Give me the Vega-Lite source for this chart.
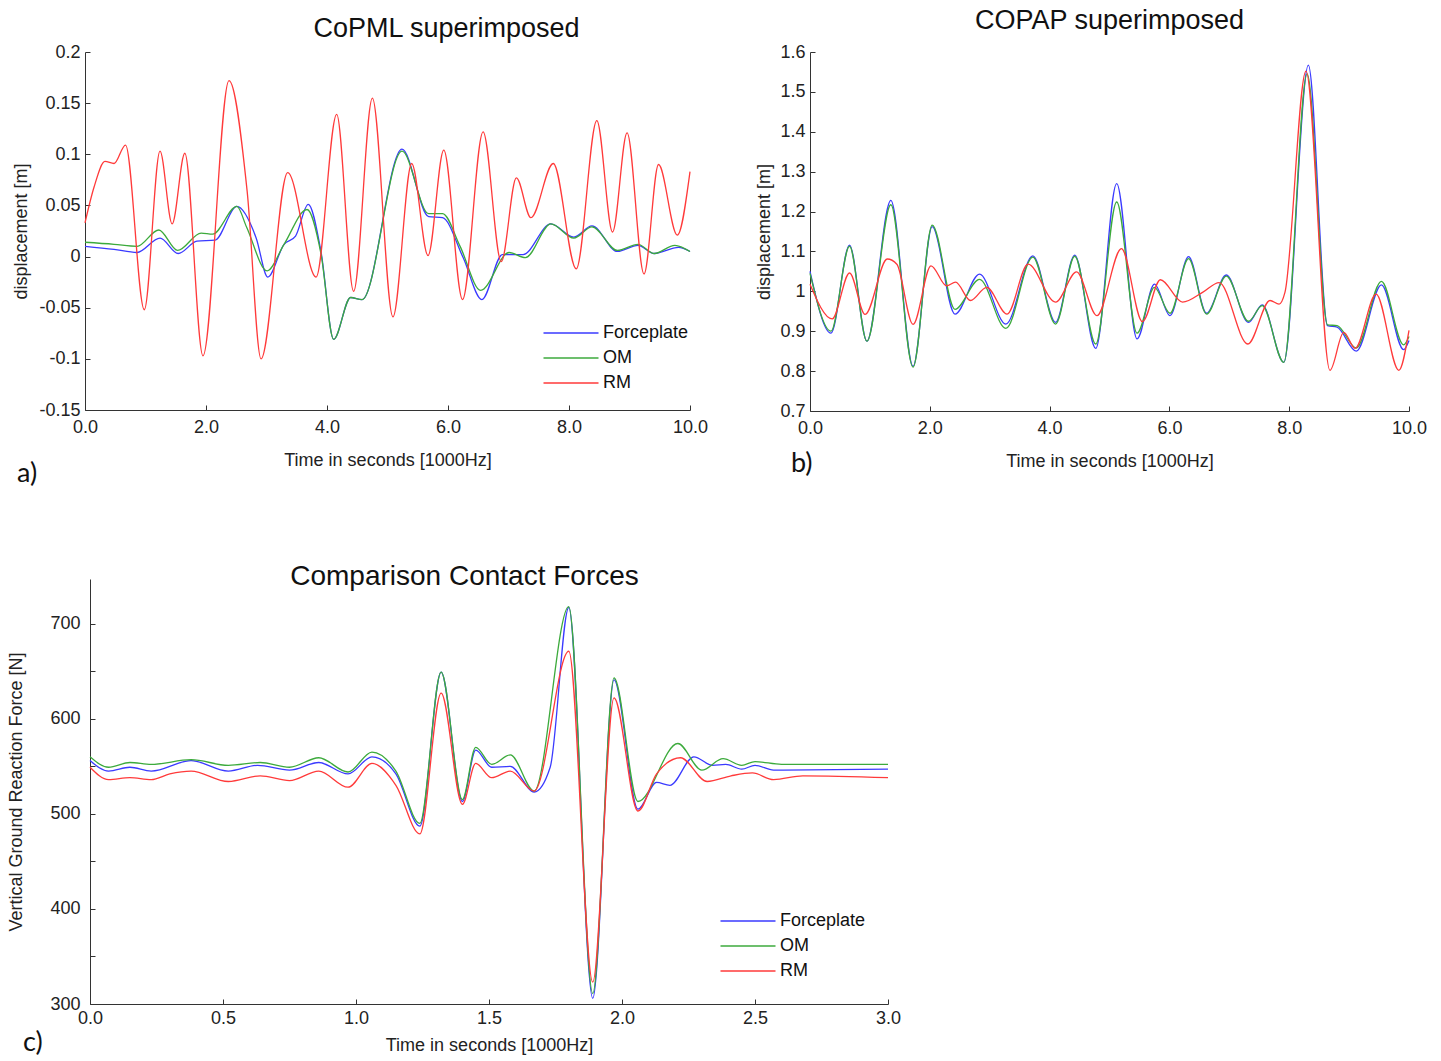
{
  "$schema": "https://vega.github.io/schema/vega-lite/v6.json",
  "background": "white",
  "padding": {"left": 7, "top": 7, "right": 5, "bottom": 5},
  "config": {
    "font": "Liberation Sans",
    "view": {"stroke": null},
    "title": {"fontSize": 27, "fontWeight": "normal", "color": "#111", "font": "Liberation Sans"},
    "axis": {
      "domainColor": "#333", "tickColor": "#333", "tickSize": -5, "labelPadding": 10, "labelFlush": false,
      "labelFontSize": 18, "labelColor": "#222", "titleFontSize": 18, "titleFontWeight": "normal",
      "titleColor": "#222", "grid": false
    },
    "legend": {"padding": 0, "labelFontSize": 18, "labelColor": "#111", "symbolType": "M-1,0H9",
      "symbolSize": 121, "symbolStrokeWidth": 1.5, "rowPadding": 7, "labelOffset": 45, "title": null},
    "line": {"strokeWidth": 1.3, "interpolate": "monotone"}
  },
  "datasets": {
    "a": [
      {"s":"Forceplate","t":0,"v":0.010},{"s":"Forceplate","t":0.48,"v":0.007},{"s":"Forceplate","t":0.86,"v":0.004},
      {"s":"Forceplate","t":1.24,"v":0.018},{"s":"Forceplate","t":1.54,"v":0.003},{"s":"Forceplate","t":1.85,"v":0.015},
      {"s":"Forceplate","t":2.15,"v":0.016},{"s":"Forceplate","t":2.51,"v":0.049},{"s":"Forceplate","t":2.83,"v":0.018},
      {"s":"Forceplate","t":3.02,"v":-0.020},{"s":"Forceplate","t":3.29,"v":0.012},{"s":"Forceplate","t":3.48,"v":0.020},
      {"s":"Forceplate","t":3.69,"v":0.051},{"s":"Forceplate","t":3.90,"v":0.005},{"s":"Forceplate","t":4.11,"v":-0.081},
      {"s":"Forceplate","t":4.39,"v":-0.040},{"s":"Forceplate","t":4.58,"v":-0.042},{"s":"Forceplate","t":5.24,"v":0.105},
      {"s":"Forceplate","t":5.68,"v":0.039},{"s":"Forceplate","t":5.91,"v":0.038},{"s":"Forceplate","t":6.25,"v":-0.001},
      {"s":"Forceplate","t":6.56,"v":-0.042},{"s":"Forceplate","t":6.90,"v":0.002},{"s":"Forceplate","t":7.24,"v":0.002},
      {"s":"Forceplate","t":7.70,"v":0.032},{"s":"Forceplate","t":8.08,"v":0.019},{"s":"Forceplate","t":8.38,"v":0.030},
      {"s":"Forceplate","t":8.80,"v":0.005},{"s":"Forceplate","t":9.14,"v":0.011},{"s":"Forceplate","t":9.41,"v":0.003},
      {"s":"Forceplate","t":9.81,"v":0.009},{"s":"Forceplate","t":10,"v":0.005},
      {"s":"OM","t":0,"v":0.014},{"s":"OM","t":0.48,"v":0.012},{"s":"OM","t":0.86,"v":0.010},{"s":"OM","t":1.22,"v":0.026},
      {"s":"OM","t":1.53,"v":0.006},{"s":"OM","t":1.92,"v":0.023},{"s":"OM","t":2.11,"v":0.022},{"s":"OM","t":2.51,"v":0.049},
      {"s":"OM","t":2.67,"v":0.029},{"s":"OM","t":3.01,"v":-0.014},{"s":"OM","t":3.29,"v":0.012},{"s":"OM","t":3.67,"v":0.046},
      {"s":"OM","t":3.90,"v":0.003},{"s":"OM","t":4.11,"v":-0.081},{"s":"OM","t":4.39,"v":-0.040},{"s":"OM","t":4.58,"v":-0.042},
      {"s":"OM","t":5.24,"v":0.103},{"s":"OM","t":5.68,"v":0.042},{"s":"OM","t":5.91,"v":0.042},{"s":"OM","t":6.20,"v":0.010},
      {"s":"OM","t":6.54,"v":-0.033},{"s":"OM","t":7.01,"v":0.004},{"s":"OM","t":7.28,"v":-0.001},{"s":"OM","t":7.70,"v":0.032},
      {"s":"OM","t":8.08,"v":0.018},{"s":"OM","t":8.38,"v":0.029},{"s":"OM","t":8.80,"v":0.006},{"s":"OM","t":9.14,"v":0.012},
      {"s":"OM","t":9.41,"v":0.003},{"s":"OM","t":9.75,"v":0.011},{"s":"OM","t":10,"v":0.005},
      {"s":"RM","t":0,"v":0.033},{"s":"RM","t":0.15,"v":0.068},{"s":"RM","t":0.33,"v":0.093},{"s":"RM","t":0.48,"v":0.091},
      {"s":"RM","t":0.67,"v":0.109},{"s":"RM","t":0.98,"v":-0.052},{"s":"RM","t":1.24,"v":0.103},{"s":"RM","t":1.44,"v":0.032},
      {"s":"RM","t":1.65,"v":0.101},{"s":"RM","t":1.95,"v":-0.097},{"s":"RM","t":2.38,"v":0.172},{"s":"RM","t":2.68,"v":0.064},
      {"s":"RM","t":2.91,"v":-0.100},{"s":"RM","t":3.35,"v":0.082},{"s":"RM","t":3.82,"v":-0.020},{"s":"RM","t":4.16,"v":0.139},
      {"s":"RM","t":4.44,"v":-0.034},{"s":"RM","t":4.75,"v":0.155},{"s":"RM","t":5.09,"v":-0.059},{"s":"RM","t":5.40,"v":0.091},
      {"s":"RM","t":5.67,"v":0.001},{"s":"RM","t":5.93,"v":0.104},{"s":"RM","t":6.24,"v":-0.042},{"s":"RM","t":6.58,"v":0.122},
      {"s":"RM","t":6.88,"v":-0.005},{"s":"RM","t":7.13,"v":0.077},{"s":"RM","t":7.37,"v":0.038},{"s":"RM","t":7.74,"v":0.091},
      {"s":"RM","t":8.12,"v":-0.012},{"s":"RM","t":8.46,"v":0.133},{"s":"RM","t":8.72,"v":0.024},{"s":"RM","t":8.96,"v":0.121},
      {"s":"RM","t":9.24,"v":-0.017},{"s":"RM","t":9.48,"v":0.090},{"s":"RM","t":9.79,"v":0.021},{"s":"RM","t":10,"v":0.083}
    ],
    "b": [
      {"s":"Forceplate","t":0,"v":1.050},{"s":"Forceplate","t":0.35,"v":0.895},{"s":"Forceplate","t":0.66,"v":1.116},
      {"s":"Forceplate","t":0.95,"v":0.875},{"s":"Forceplate","t":1.35,"v":1.228},{"s":"Forceplate","t":1.72,"v":0.812},
      {"s":"Forceplate","t":2.04,"v":1.162},{"s":"Forceplate","t":2.42,"v":0.943},{"s":"Forceplate","t":2.83,"v":1.043},
      {"s":"Forceplate","t":3.27,"v":0.918},{"s":"Forceplate","t":3.72,"v":1.089},{"s":"Forceplate","t":4.10,"v":0.922},
      {"s":"Forceplate","t":4.42,"v":1.091},{"s":"Forceplate","t":4.77,"v":0.857},{"s":"Forceplate","t":5.12,"v":1.270},
      {"s":"Forceplate","t":5.46,"v":0.881},{"s":"Forceplate","t":5.75,"v":1.018},{"s":"Forceplate","t":6.01,"v":0.939},
      {"s":"Forceplate","t":6.32,"v":1.087},{"s":"Forceplate","t":6.62,"v":0.945},{"s":"Forceplate","t":6.95,"v":1.041},
      {"s":"Forceplate","t":7.32,"v":0.922},{"s":"Forceplate","t":7.55,"v":0.966},{"s":"Forceplate","t":7.91,"v":0.822},
      {"s":"Forceplate","t":8.32,"v":1.567},{"s":"Forceplate","t":8.64,"v":0.914},{"s":"Forceplate","t":8.80,"v":0.910},
      {"s":"Forceplate","t":9.12,"v":0.850},{"s":"Forceplate","t":9.54,"v":1.016},{"s":"Forceplate","t":9.91,"v":0.854},
      {"s":"Forceplate","t":10,"v":0.877},
      {"s":"OM","t":0,"v":1.045},{"s":"OM","t":0.35,"v":0.900},{"s":"OM","t":0.66,"v":1.113},{"s":"OM","t":0.95,"v":0.875},
      {"s":"OM","t":1.35,"v":1.217},{"s":"OM","t":1.72,"v":0.810},{"s":"OM","t":2.04,"v":1.166},{"s":"OM","t":2.42,"v":0.955},
      {"s":"OM","t":2.83,"v":1.030},{"s":"OM","t":3.27,"v":0.907},{"s":"OM","t":3.72,"v":1.086},{"s":"OM","t":4.10,"v":0.918},
      {"s":"OM","t":4.42,"v":1.088},{"s":"OM","t":4.77,"v":0.868},{"s":"OM","t":5.12,"v":1.224},{"s":"OM","t":5.46,"v":0.895},
      {"s":"OM","t":5.75,"v":1.010},{"s":"OM","t":6.01,"v":0.945},{"s":"OM","t":6.32,"v":1.082},{"s":"OM","t":6.62,"v":0.943},
      {"s":"OM","t":6.95,"v":1.038},{"s":"OM","t":7.32,"v":0.925},{"s":"OM","t":7.55,"v":0.964},{"s":"OM","t":7.91,"v":0.822},
      {"s":"OM","t":8.30,"v":1.545},{"s":"OM","t":8.64,"v":0.916},{"s":"OM","t":8.80,"v":0.914},{"s":"OM","t":9.12,"v":0.858},
      {"s":"OM","t":9.54,"v":1.025},{"s":"OM","t":9.91,"v":0.866},{"s":"OM","t":10,"v":0.887},
      {"s":"RM","t":0,"v":1.018},{"s":"RM","t":0.37,"v":0.931},{"s":"RM","t":0.66,"v":1.046},{"s":"RM","t":0.92,"v":0.942},
      {"s":"RM","t":1.29,"v":1.081},{"s":"RM","t":1.45,"v":1.068},{"s":"RM","t":1.72,"v":0.917},{"s":"RM","t":2.02,"v":1.064},
      {"s":"RM","t":2.28,"v":1.014},{"s":"RM","t":2.43,"v":1.023},{"s":"RM","t":2.68,"v":0.977},{"s":"RM","t":2.95,"v":1.010},
      {"s":"RM","t":3.29,"v":0.943},{"s":"RM","t":3.64,"v":1.068},{"s":"RM","t":4.10,"v":0.973},{"s":"RM","t":4.45,"v":1.049},
      {"s":"RM","t":4.79,"v":0.939},{"s":"RM","t":5.20,"v":1.107},{"s":"RM","t":5.55,"v":0.924},{"s":"RM","t":5.85,"v":1.029},
      {"s":"RM","t":6.22,"v":0.973},{"s":"RM","t":6.56,"v":0.998},{"s":"RM","t":6.83,"v":1.022},{"s":"RM","t":7.31,"v":0.868},
      {"s":"RM","t":7.68,"v":0.977},{"s":"RM","t":7.83,"v":0.968},{"s":"RM","t":7.93,"v":0.998},{"s":"RM","t":8.28,"v":1.552},
      {"s":"RM","t":8.68,"v":0.802},{"s":"RM","t":8.91,"v":0.897},{"s":"RM","t":9.10,"v":0.857},{"s":"RM","t":9.45,"v":0.993},
      {"s":"RM","t":9.83,"v":0.802},{"s":"RM","t":10,"v":0.902}
    ],
    "c": [
      {"s":"Forceplate","t":0,"v":556},{"s":"Forceplate","t":0.07,"v":545},{"s":"Forceplate","t":0.15,"v":549},
      {"s":"Forceplate","t":0.23,"v":545},{"s":"Forceplate","t":0.38,"v":556},{"s":"Forceplate","t":0.52,"v":545},
      {"s":"Forceplate","t":0.63,"v":551},{"s":"Forceplate","t":0.75,"v":546},{"s":"Forceplate","t":0.86,"v":554},
      {"s":"Forceplate","t":0.97,"v":542},{"s":"Forceplate","t":1.06,"v":560},{"s":"Forceplate","t":1.15,"v":542},
      {"s":"Forceplate","t":1.24,"v":487},{"s":"Forceplate","t":1.32,"v":649},{"s":"Forceplate","t":1.40,"v":513},
      {"s":"Forceplate","t":1.45,"v":567},{"s":"Forceplate","t":1.51,"v":549},{"s":"Forceplate","t":1.58,"v":550},
      {"s":"Forceplate","t":1.67,"v":523},{"s":"Forceplate","t":1.73,"v":549},{"s":"Forceplate","t":1.80,"v":717},
      {"s":"Forceplate","t":1.89,"v":306},{"s":"Forceplate","t":1.97,"v":641},{"s":"Forceplate","t":2.06,"v":505},
      {"s":"Forceplate","t":2.13,"v":533},{"s":"Forceplate","t":2.18,"v":530},{"s":"Forceplate","t":2.27,"v":560},
      {"s":"Forceplate","t":2.34,"v":551},{"s":"Forceplate","t":2.39,"v":552},{"s":"Forceplate","t":2.45,"v":547},
      {"s":"Forceplate","t":2.50,"v":551},{"s":"Forceplate","t":2.57,"v":546},{"s":"Forceplate","t":3.0,"v":547},
      {"s":"OM","t":0,"v":560},{"s":"OM","t":0.07,"v":549},{"s":"OM","t":0.15,"v":554},{"s":"OM","t":0.23,"v":552},
      {"s":"OM","t":0.38,"v":557},{"s":"OM","t":0.52,"v":551},{"s":"OM","t":0.64,"v":554},{"s":"OM","t":0.75,"v":549},
      {"s":"OM","t":0.86,"v":559},{"s":"OM","t":0.97,"v":544},{"s":"OM","t":1.06,"v":565},{"s":"OM","t":1.15,"v":545},
      {"s":"OM","t":1.24,"v":490},{"s":"OM","t":1.32,"v":649},{"s":"OM","t":1.40,"v":515},{"s":"OM","t":1.45,"v":570},
      {"s":"OM","t":1.51,"v":552},{"s":"OM","t":1.58,"v":562},{"s":"OM","t":1.67,"v":524},{"s":"OM","t":1.80,"v":718},
      {"s":"OM","t":1.89,"v":311},{"s":"OM","t":1.97,"v":643},{"s":"OM","t":2.06,"v":513},{"s":"OM","t":2.21,"v":574},
      {"s":"OM","t":2.30,"v":546},{"s":"OM","t":2.38,"v":558},{"s":"OM","t":2.45,"v":551},{"s":"OM","t":2.50,"v":555},
      {"s":"OM","t":2.60,"v":552},{"s":"OM","t":3.0,"v":552},
      {"s":"RM","t":0,"v":549},{"s":"RM","t":0.07,"v":536},{"s":"RM","t":0.15,"v":538},{"s":"RM","t":0.23,"v":536},
      {"s":"RM","t":0.30,"v":542},{"s":"RM","t":0.38,"v":545},{"s":"RM","t":0.52,"v":534},{"s":"RM","t":0.64,"v":540},
      {"s":"RM","t":0.75,"v":535},{"s":"RM","t":0.86,"v":545},{"s":"RM","t":0.97,"v":528},{"s":"RM","t":1.06,"v":553},
      {"s":"RM","t":1.15,"v":530},{"s":"RM","t":1.24,"v":479},{"s":"RM","t":1.32,"v":627},{"s":"RM","t":1.40,"v":510},
      {"s":"RM","t":1.45,"v":553},{"s":"RM","t":1.51,"v":538},{"s":"RM","t":1.58,"v":545},{"s":"RM","t":1.67,"v":524},
      {"s":"RM","t":1.80,"v":671},{"s":"RM","t":1.89,"v":323},{"s":"RM","t":1.97,"v":622},{"s":"RM","t":2.06,"v":503},
      {"s":"RM","t":2.13,"v":542},{"s":"RM","t":2.22,"v":559},{"s":"RM","t":2.32,"v":534},{"s":"RM","t":2.41,"v":540},
      {"s":"RM","t":2.49,"v":543},{"s":"RM","t":2.57,"v":536},{"s":"RM","t":2.68,"v":540},{"s":"RM","t":3.0,"v":538}
    ]
  },
  "concat": [
    {
      "hconcat": [
        {
          "title": {"text": "a)", "orient": "bottom", "anchor": "start", "font": "Lato", "fontSize": 27, "offset": -8, "dx": 4},
          "vconcat": [
            {
              "title": {"text": "CoPML superimposed", "offset": 0, "dx": 59},
              "width": 605, "height": 358,
              "data": {"name": "a"},
              "mark": {"type": "line"},
              "encoding": {
                "x": {"field": "t", "type": "quantitative", "scale": {"domain": [0, 10], "nice": false},
                  "axis": {"title": "Time in seconds [1000Hz]", "values": [0,2,4,6,8,10], "format": ".1f", "labelPadding": 13, "titlePadding": 15}},
                "y": {"field": "v", "type": "quantitative", "scale": {"domain": [-0.15, 0.2], "nice": false},
                  "axis": {"title": "displacement [m]", "values": [-0.15,-0.1,-0.05,0,0.05,0.1,0.15,0.2], "labelExpr": "'' + datum.value", "titlePadding": 8}},
                "color": {"field": "s", "type": "nominal",
                  "scale": {"domain": ["Forceplate","OM","RM"], "range": ["#3a3aff","#3caa3c","#ff3a3a"]},
                  "legend": {"orient": "none", "legendX": 455, "legendY": 272}}
              }
            }
          ]
        },
        {
          "title": {"text": "b)", "orient": "bottom", "anchor": "start", "font": "Lato", "fontSize": 27, "offset": -19, "dx": 35},
          "vconcat": [
            {
              "title": {"text": "COPAP superimposed", "offset": 8},
              "width": 599, "height": 359,
              "data": {"name": "b"},
              "mark": {"type": "line"},
              "encoding": {
                "x": {"field": "t", "type": "quantitative", "scale": {"domain": [0, 10], "nice": false},
                  "axis": {"title": "Time in seconds [1000Hz]", "values": [0,2,4,6,8,10], "format": ".1f", "labelPadding": 13, "titlePadding": 15}},
                "y": {"field": "v", "type": "quantitative", "scale": {"domain": [0.7, 1.6], "nice": false, "zero": false},
                  "axis": {"title": "displacement [m]", "values": [0.7,0.8,0.9,1,1.1,1.2,1.3,1.4,1.5,1.6], "labelExpr": "'' + datum.value", "titlePadding": 6}},
                "color": {"field": "s", "type": "nominal",
                  "scale": {"domain": ["Forceplate","OM","RM"], "range": ["#3a3aff","#3caa3c","#ff3a3a"]},
                  "legend": null}
              }
            }
          ]
        }
      ],
      "spacing": 47,
      "resolve": {"scale": {"color": "independent"}}
    },
    {
      "title": {"text": "c)", "orient": "bottom", "anchor": "start", "font": "Lato", "fontSize": 27, "offset": -24, "dx": 15},
      "vconcat": [
        {
          "title": {"text": "Comparison  Contact Forces", "offset": -12, "fontSize": 28, "dx": -22},
          "width": 803, "height": 425,
          "data": {"name": "c"},
          "mark": {"type": "line"},
          "encoding": {
            "x": {"field": "t", "type": "quantitative", "scale": {"domain": [0, 3], "nice": false, "range": [5, 803]},
              "axis": {"title": "Time in seconds [1000Hz]", "values": [0,0.5,1,1.5,2,2.5,3], "format": ".1f", "titlePadding": 9}},
            "y": {"field": "v", "type": "quantitative", "scale": {"domain": [300, 747], "nice": false, "zero": false},
              "axis": {"title": "Vertical Ground Reaction Force [N]", "values": [300,350,400,450,500,550,600,650,700], "offset": -5,
                "labelExpr": "datum.value % 100 === 0 ? '' + datum.value : ''", "labelPadding": 15, "titlePadding": 24}},
            "color": {"field": "s", "type": "nominal",
              "scale": {"domain": ["Forceplate","OM","RM"], "range": ["#3a3aff","#3caa3c","#ff3a3a"]},
              "legend": {"orient": "none", "legendX": 632, "legendY": 333}}
          }
        }
      ]
    }
  ],
  "columns": 1,
  "align": "none",
  "spacing": 76,
  "resolve": {"scale": {"color": "independent"}}
}
